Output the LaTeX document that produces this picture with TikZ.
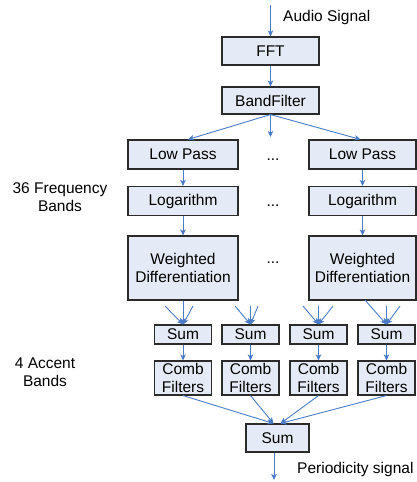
\documentclass[tikz,border=0pt]{standalone}
\usepackage{fontspec}
\setmainfont{Liberation Sans}
\usetikzlibrary{arrows.meta,calc}
\definecolor{arr}{HTML}{4A7CC6}
\definecolor{boxfill}{HTML}{E4EAF6}
\definecolor{boxline}{HTML}{2B2B2B}
\tikzset{
  blk/.style={draw=boxline, fill=boxfill, line width=1.1pt, inner sep=0pt, align=center,
    font=\fontsize{15.5}{18}\selectfont},
  lbl/.style={inner sep=0pt, align=center, font=\fontsize{15.5}{18}\selectfont},
  ar/.style={draw=arr, line width=0.9pt, -{Stealth[length=6pt,width=5.5pt,inset=1.5pt]}},
}
\begin{document}
\begin{tikzpicture}[x=1pt,y=-1pt]
\useasboundingbox (0,0) rectangle (417,482);
% top chain
\node[blk, minimum width=97pt, minimum height=28pt] (fft) at (270.5,51) {FFT};
\node[blk, minimum width=97pt, minimum height=27pt] (bf) at (270.5,100.5) {BandFilter};
\coordinate (in) at (270.5,5);
\node[lbl, anchor=west] (audio) at (283,17) {Audio Signal};
% columns
\node[blk, minimum width=110pt, minimum height=29pt] (lp1) at (183,154.5) {Low Pass};
\node[blk, minimum width=107pt, minimum height=29pt] (lp2) at (362.5,154.5) {Low Pass};
\node[blk, minimum width=110pt, minimum height=29pt] (lg1) at (183,201) {Logarithm};
\node[blk, minimum width=107pt, minimum height=29pt] (lg2) at (362.5,201) {Logarithm};
\node[blk, minimum width=110pt, minimum height=64pt] (wd1) at (183,268) {Weighted\\Differentiation};
\node[blk, minimum width=107pt, minimum height=64pt] (wd2) at (362.5,268) {Weighted\\Differentiation};
\node[lbl] (d1) at (273,160) {...};
\node[lbl] (d2) at (273,206) {...};
\node[lbl] (d3) at (273,263) {...};
\coordinate (dtop) at (270.5,137);
\node[lbl] (freq) at (60,197) {36 Frequency\\Bands};
% sums
\foreach \i/\x in {1/183,2/250.5,3/318.5,4/386.5}{
  \node[blk, minimum width=57pt, minimum height=19pt] (s\i) at (\x,334.5) {Sum};
  \node[blk, minimum width=57pt, minimum height=34pt] (c\i) at (\x,378) {Comb\\Filters};
}
\node[lbl] (acc) at (45,372) {4 Accent\\Bands};
\node[blk, minimum width=63pt, minimum height=28pt] (fs) at (277.5,438) {Sum};
\node[lbl, anchor=west] (per) at (297,469) {Periodicity signal};
\coordinate (out) at (274,480);
% connectors top
\draw[ar] (in) -- (fft.north);
\draw[ar] (fft) -- (bf);
\draw[ar] (bf.south) -- ($(lp1.north)+(5,0)$);
\draw[ar] (bf.south) -- ($(lp2.north)+(-2,0)$);
\draw[ar] (bf.south) -- (dtop);
\draw[ar] (lp1) -- (lg1);
\draw[ar] (lp2) -- (lg2);
\draw[ar] (lg1) -- (wd1);
\draw[ar] (lg2) -- (wd2);
% sum inputs
\coordinate (a1l) at (165,306); \coordinate (a1r) at (193,306);
\draw[ar] (a1l) -- (s1.north); \draw[ar] (a1r) -- (s1.north); \draw[ar] (wd1.south) -- (s1.north);
\coordinate (a2l) at (235,306); \coordinate (a2m) at (250.5,306); \coordinate (a2r) at (258,306);
\draw[ar] (a2l) -- (s2.north); \draw[ar] (a2m) -- (s2.north); \draw[ar] (a2r) -- (s2.north);
\coordinate (a3l) at (303,306); \coordinate (a3m) at (318.5,306); \coordinate (a3r) at (333,306);
\draw[ar] (a3l) -- (s3.north); \draw[ar] (a3m) -- (s3.north); \draw[ar] (a3r) -- (s3.north);
\coordinate (a4l) at (365,300); \coordinate (a4m) at (386.5,306); \coordinate (a4r) at (400,306);
\draw[ar] (a4l) -- (s4.north); \draw[ar] (a4m) -- (s4.north); \draw[ar] (a4r) -- (s4.north);
% sum to comb
\foreach \i in {1,2,3,4}{ \draw[ar] (s\i) -- (c\i); }
% comb to final sum
\draw[ar] (c1.south) -- ($(fs.north)+(-4,0)$);
\draw[ar] (c2.south) -- ($(fs.north)+(-4,0)$);
\draw[ar] (c3.south) -- ($(fs.north)+(3,0)$);
\draw[ar] (c4.south) -- ($(fs.north)+(3,0)$);
\draw[ar] (fs.south -| out) -- (out);
\end{tikzpicture}
\end{document}
